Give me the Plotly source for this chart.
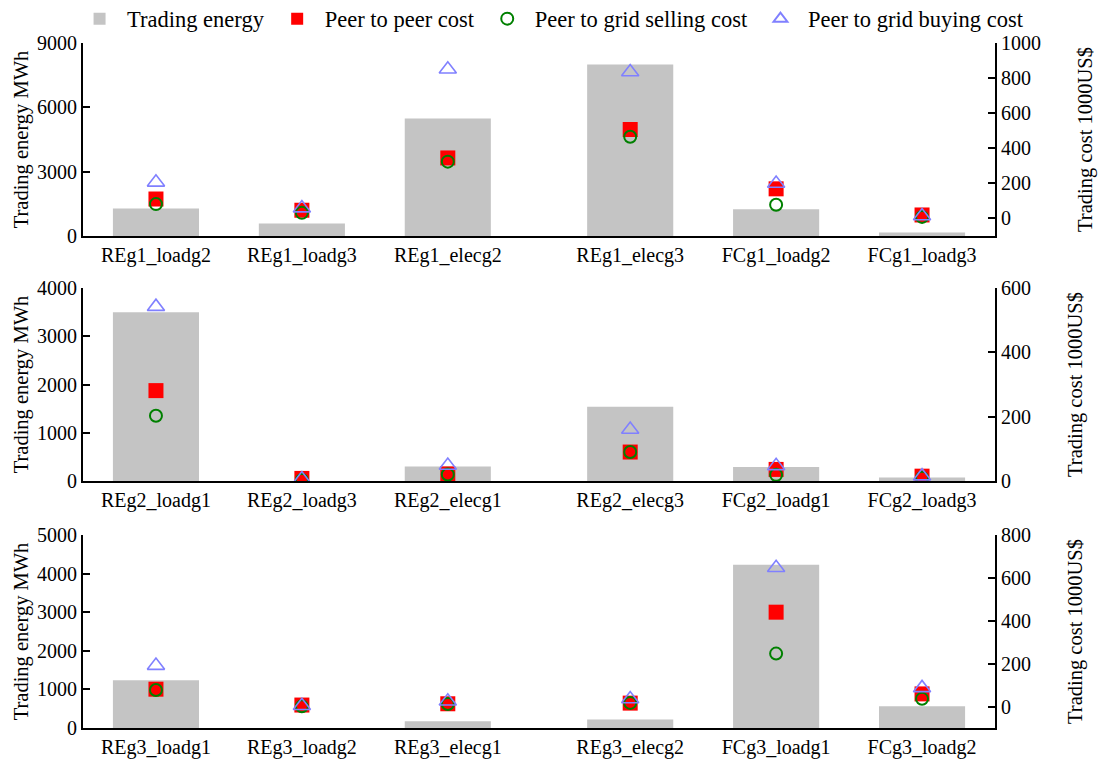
import plotly.graph_objects as go
from plotly.subplots import make_subplots

# ---------------- data ----------------
cats1 = ["REg1_loadg2", "REg1_loadg3", "REg1_elecg2", "REg1_elecg3", "FCg1_loadg2", "FCg1_loadg3"]
energy1 = [1280, 580, 5480, 8000, 1250, 170]
p2p1 = [111, 47, 345, 507, 169, 20]
sell1 = [82, 32, 324, 466, 78, 9]
buy1 = [206, 59, 850, 835, 199, 14]

cats2 = ["REg2_loadg1", "REg2_loadg3", "REg2_elecg1", "REg2_elecg3", "FCg2_loadg1", "FCg2_loadg3"]
energy2 = [3500, 0, 300, 1540, 290, 70]
p2p2 = [281, 8, 22, 90, 36, 15]
sell2 = [203, 3, 20, 90, 19, 10]
buy2 = [542, 6, 48, 160, 47, 15]

cats3 = ["REg3_loadg1", "REg3_loadg2", "REg3_elecg1", "REg3_elecg2", "FCg3_loadg1", "FCg3_loadg2"]
energy3 = [1240, 0, 175, 220, 4230, 565]
p2p3 = [81, 7, 13, 16, 440, 59]
sell3 = [77, 1, 12, 17, 247, 36]
buy3 = [191, 4, 25, 35, 647, 87]

# layout positions of the categories along x (gap after the third one)
x_pos = [0, 1, 2, 3.25, 4.25, 5.25]

panels = [
    (cats1, energy1, p2p1, sell1, buy1, [0, 9000], 3000, [-100, 1000], 200),
    (cats2, energy2, p2p2, sell2, buy2, [0, 4000], 1000, [0, 600], 200),
    (cats3, energy3, p2p3, sell3, buy3, [0, 5000], 1000, [-100, 800], 200),
]

FONT = "Times New Roman"
BAR_C = "#c4c4c4"
RED = "#ff0000"
GREEN = "#008000"
BLUE = "#8080ff"

fig = make_subplots(rows=3, cols=1, specs=[[{"secondary_y": True}]] * 3,
                    vertical_spacing=0.05)

domains = [[0.7182, 1.0], [0.3606, 0.6423], [0.0, 0.2818]]

for i, (cats, en, p2p, sell, buy, lr, ld, rr, rd) in enumerate(panels):
    row = i + 1
    show = (i == 0)
    fig.add_trace(go.Bar(x=x_pos, y=en, name="Trading energy", marker_color=BAR_C,
                         marker_line_width=0, width=0.59, showlegend=show),
                  row=row, col=1, secondary_y=False)
    fig.add_trace(go.Scatter(x=x_pos, y=p2p, mode="markers", name="Peer to peer cost",
                             marker=dict(symbol="square", size=15, color=RED),
                             showlegend=show),
                  row=row, col=1, secondary_y=True)
    fig.add_trace(go.Scatter(x=x_pos, y=sell, mode="markers", name="Peer to grid selling cost",
                             marker=dict(symbol="circle-open", size=12, color=GREEN,
                                         line=dict(width=2, color=GREEN)),
                             showlegend=show),
                  row=row, col=1, secondary_y=True)
    fig.add_trace(go.Scatter(x=x_pos, y=buy, mode="markers", name="Peer to grid buying cost",
                             marker=dict(symbol="triangle-up-open", size=15, color=BLUE,
                                         line=dict(width=1.6, color=BLUE)),
                             showlegend=show),
                  row=row, col=1, secondary_y=True)

    fig.update_xaxes(row=row, col=1, range=[-0.5, 5.75], tickvals=x_pos, ticktext=cats,
                     showline=True, linecolor="black", linewidth=2, ticks="",
                     showgrid=False, zeroline=False, automargin=False,
                     tickfont=dict(family=FONT, size=20, color="black"))
    fig.update_yaxes(row=row, col=1, secondary_y=False, range=lr, dtick=ld, tick0=0,
                     showline=True, linecolor="black", linewidth=2,
                     ticks="inside", ticklen=7, tickwidth=2, tickcolor="black",
                     showgrid=False, zeroline=False, automargin=False,
                     title=dict(text="Trading energy MWh", font=dict(family=FONT, size=20.5, color="black"),
                                standoff=3),
                     tickfont=dict(family=FONT, size=20, color="black"))
    fig.update_yaxes(row=row, col=1, secondary_y=True, range=rr, dtick=rd, tick0=0,
                     showline=True, linecolor="black", linewidth=2,
                     ticks="inside", ticklen=7, tickwidth=2, tickcolor="black",
                     showgrid=False, zeroline=False, automargin=False,
                     title=dict(text="Trading cost 1000US$", font=dict(family=FONT, size=20.5, color="black"),
                                standoff=38),
                     tickfont=dict(family=FONT, size=20, color="black"))

# set domains
for i in range(3):
    d = domains[i]
    fig.layout[f"xaxis{'' if i == 0 else i + 1}"].domain = [0, 1]
    fig.layout[f"yaxis{2*i+1}"].domain = d
    fig.layout[f"yaxis{2*i+2}"].domain = d

fig.update_layout(
    width=1101, height=757,
    margin=dict(l=75, r=114, t=35, b=37, autoexpand=False),
    paper_bgcolor="white", plot_bgcolor="white",
    font=dict(family=FONT, size=20, color="black"),
    barmode="overlay",
    legend=dict(orientation="h", x=-0.012, y=1.035, xanchor="left", yanchor="middle",
                font=dict(family=FONT, size=22.5, color="black"), itemwidth=45,
                bgcolor="rgba(0,0,0,0)", itemsizing="constant", tracegroupgap=0),
)

fig.write_html("out.html")
